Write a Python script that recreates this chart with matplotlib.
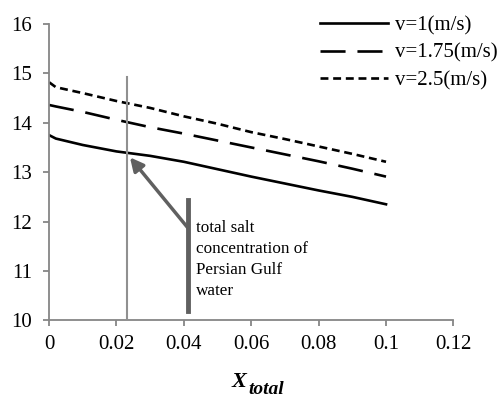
import matplotlib.pyplot as plt
import numpy as np

plt.rcParams['font.family'] = ['Liberation Serif', 'DejaVu Serif']

# Valeurs
x_total = [0.0, 0.002, 0.01, 0.02, 0.03, 0.04, 0.05, 0.06, 0.07, 0.08, 0.09, 0.1]
v1 = [13.75, 13.68, 13.55, 13.42, 13.33, 13.21, 13.06, 12.91, 12.77, 12.63, 12.50, 12.35]
v175 = [14.36, 14.33, 14.22, 14.06, 13.91, 13.78, 13.64, 13.50, 13.36, 13.22, 13.07, 12.91]
v25 = [14.82, 14.72, 14.60, 14.44, 14.30, 14.13, 13.98, 13.81, 13.67, 13.52, 13.37, 13.21]
labels = ['v=1(m/s)', 'v=1.75(m/s)', 'v=2.5(m/s)']

x_gulf = 0.0232
gris = '#868686'

fig = plt.figure(figsize=(5.01, 3.99), dpi=100)
ax = fig.add_axes([0.098, 0.197, 0.807, 0.743])

ax.plot(x_total, v1, color='black', lw=1.9, label=labels[0])
ax.plot(x_total, v175, color='black', lw=1.9, dashes=(9.5, 4.5), label=labels[1])
ax.plot(x_total, v25, color='black', lw=1.9, dashes=(3, 1.8), label=labels[2])

# ligne verticale : concentration du golfe Persique
ax.plot([x_gulf, x_gulf], [10.05, 14.93], color='#909090', lw=1.5)
ax.plot([0.0411, 0.0411], [10.19, 12.44], color='#606060', lw=3.5)
ax.annotate('', xy=(0.0240, 13.30), xytext=(0.0411, 11.88),
            arrowprops=dict(arrowstyle='-|>,head_length=0.8,head_width=0.4',
                            color='#606060', lw=2.5, shrinkA=0, shrinkB=0))
# va='baseline' -> ligne de base de la derniere ligne ("water")
ax.text(0.0436, 10.514, 'total salt\nconcentration of\nPersian Gulf\nwater',
        fontsize=12.3, va='baseline', ha='left', linespacing=1.41)

ax.set_xlim(0, 0.12)
ax.set_ylim(10, 16)
ax.set_xticks(np.arange(0, 0.121, 0.02))
ax.set_xticklabels(['0', '0.02', '0.04', '0.06', '0.08', '0.1', '0.12'])
ax.set_yticks(range(10, 17))

for s in ['top', 'right']:
    ax.spines[s].set_visible(False)
for s in ['left', 'bottom']:
    ax.spines[s].set_color(gris)
    ax.spines[s].set_linewidth(1.3)
ax.tick_params(colors=gris, labelcolor='black', labelsize=15, length=4.5, width=1.3)
ax.tick_params(axis='y', pad=8)
ax.tick_params(axis='x', pad=6)

# titre de l'axe x : X en gras italique avec indice "total"
fig.text(231.7 / 501, 12 / 399, 'X', fontsize=16, fontweight='bold',
         fontstyle='italic', ha='left', va='baseline')
fig.text(248.3 / 501, 5 / 399, 'total', fontsize=14, fontweight='bold',
         fontstyle='italic', ha='left', va='baseline')

ax.legend(loc='upper left', bbox_to_anchor=(320 / 501, 1 - 16 / 399),
          bbox_transform=fig.transFigure, frameon=False, borderpad=0,
          borderaxespad=0, fontsize=15, handlelength=3.27, handletextpad=0.34,
          labelspacing=0.37)

plt.savefig('out.png', dpi=100)
